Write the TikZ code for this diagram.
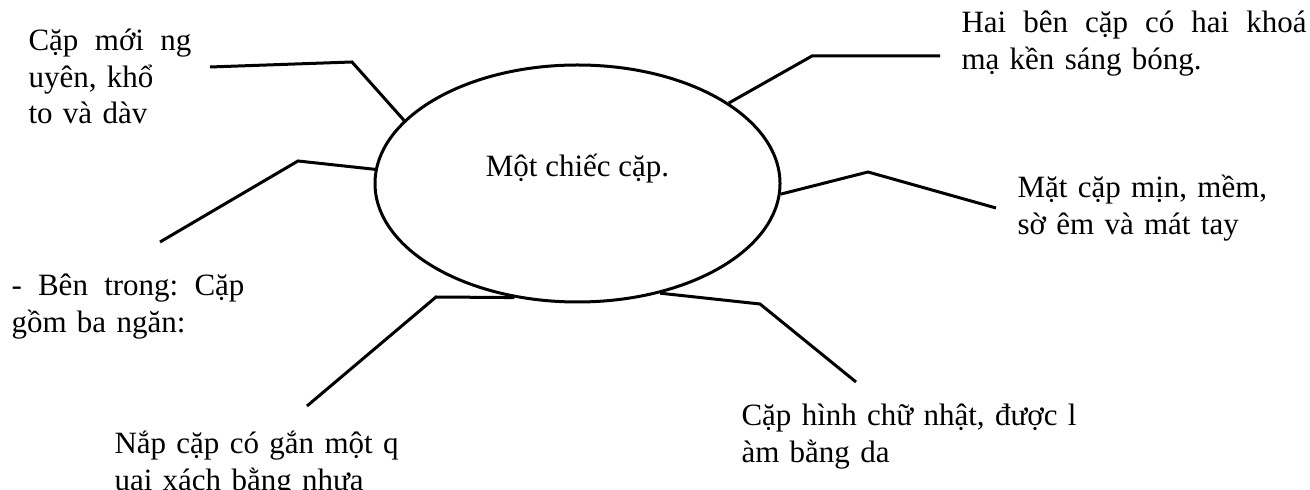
\documentclass[tikz,border=0pt]{standalone}
\usepackage{fontspec}
\setmainfont{Liberation Serif}
\usetikzlibrary{shapes.geometric}

\begin{document}
\begin{tikzpicture}[x=0.5pt, y=-0.5pt, line width=1.5pt,
		note/.style={anchor=base west, inner sep=0pt, align=left, font=\fontsize{15.5}{18.25}\selectfont}]
		\useasboundingbox (0,0) rectangle (1310,490);
		\node[draw, ellipse, inner sep=0pt, minimum width=202.5pt, minimum height=118.5pt] (bag) at (577.5,183.5) {};
		\node[note, anchor=base] (title) at (577.5,177) {Một chiếc cặp.};

		\node[note, text width=81.5pt] (new) at (27,51) {Cặp\hfill mới\hfill ng\\uyên, khổ\\to và dàv};
		\node[note, text width=172.5pt] (lock) at (960,33) {Hai\hfill bên\hfill cặp\hfill có\hfill hai\hfill khoá\\mạ kền sáng bóng.};
		\node[note, text width=116.5pt] (inside) at (10,296) {-\hfill Bên\hfill trong:\hfill Cặp\\gồm ba ngăn:};
		\node[note, text width=150pt] (lid) at (113,454) {Nắp cặp có gắn một q\\uai xách bằng nhựa};
		\node[note, text width=180pt] (shape) at (740,426) {Cặp hình chữ nhật, được l\\àm bằng da};
		\node[note, text width=135pt] (skin) at (1016,198) {Mặt cặp mịn, mềm,\\sờ êm và mát tay};

		% bends and free ends of the legs
		\coordinate (newB) at (352,62);    \coordinate (newE) at (210,67);
		\coordinate (insideB) at (298,161); \coordinate (insideE) at (160,242);
		\coordinate (lockB) at (812,56);   \coordinate (lockE) at (940,56);
		\coordinate (skinB) at (868,172);  \coordinate (skinE) at (996,208);
		\coordinate (shapeB) at (760,304); \coordinate (shapeE) at (856,382);
		\coordinate (lidB) at (436,297);   \coordinate (lidE) at (307,406);

		\draw (bag.160) -- (newB) -- (newE);
		\draw (bag.176) -- (insideB) -- (insideE);
		\draw (bag.28) -- (lockB) -- (lockE);
		\draw (bag.-3) -- (skinB) -- (skinE);
		\draw (bag.-53) -- (shapeB) -- (shapeE);
		\draw (bag.-119) -- (lidB) -- (lidE);
	\end{tikzpicture}
\end{document}
